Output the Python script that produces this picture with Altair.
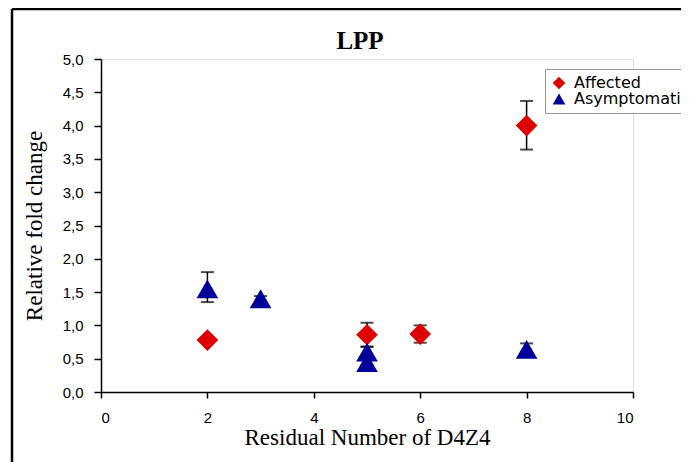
import altair as alt
import pandas as pd

# ---- data ----
groups = ["Affected", "Affected", "Affected", "Affected",
          "Asymptomatic", "Asymptomatic", "Asymptomatic", "Asymptomatic", "Asymptomatic"]
x_vals = [2, 5, 6, 8, 2, 3, 5, 5, 8]
y_vals = [0.78, 0.86, 0.87, 4.00, 1.55, 1.40, 0.60, 0.44, 0.64]
err_low = [None, 0.68, 0.74, 3.64, 1.35, 1.36, 0.52, 0.40, 0.56]
err_high = [None, 1.04, 1.00, 4.37, 1.80, 1.44, 0.68, 0.48, 0.73]

y_ticks = [0.0, 0.5, 1.0, 1.5, 2.0, 2.5, 3.0, 3.5, 4.0, 4.5, 5.0]
x_ticks = [0, 2, 4, 6, 8, 10]
series = ["Affected", "Asymptomatic"]
series_colors = ["#dd0000", "#000099"]
series_shapes = ["diamond", "triangle-up"]
chart_title = "LPP"

df = pd.DataFrame({"group": groups, "x": x_vals, "y": y_vals,
                   "lo": err_low, "hi": err_high})
err = df.dropna().copy()
caps = pd.concat([
    pd.DataFrame({"x": err["x"], "v": err["lo"]}),
    pd.DataFrame({"x": err["x"], "v": err["hi"]}),
])

W, H = 532, 333
PAD = {"left": 93, "top": 51, "right": 48, "bottom": 70}

serif = "Liberation Serif"
sans = "Liberation Sans"

xscale = alt.Scale(domain=[0, 10], nice=False, zero=False)
yscale = alt.Scale(domain=[0, 5], nice=False)

xaxis = alt.Axis(values=x_ticks, format="d", title="Residual Number of D4Z4",
                 grid=False, tickSize=6, labelPadding=12, titlePadding=1,
                 labelOverlap=False,
                 labelFont=sans, labelFontSize=15, labelColor="#000",
                 titleFont=serif, titleFontSize=23, titleFontWeight="normal",
                 titleColor="#000", domainColor="#000", tickColor="#000",
                 domainWidth=1.5, tickWidth=1.5)
yaxis = alt.Axis(values=y_ticks, tickCount=11,
                 labelExpr="replace(format(datum.value, '.1f'), '.', ',')",
                 title="Relative fold change", grid=False, tickSize=7,
                 labelPadding=11, titlePadding=16, labelOverlap=False,
                 labelFont=sans, labelFontSize=15, labelColor="#000",
                 titleFont=serif, titleFontSize=23, titleFontWeight="normal",
                 titleColor="#000", domainColor="#000", tickColor="#000",
                 domainWidth=1.5, tickWidth=1.5)

bars = alt.Chart(err).mark_rule(color="#000", strokeWidth=1.5).encode(
    x=alt.X("x:Q", scale=xscale, axis=xaxis),
    y=alt.Y("lo:Q", scale=yscale, axis=yaxis),
    y2="hi:Q",
)
capmarks = alt.Chart(caps).mark_tick(color="#000", orient="horizontal",
                                     size=13, thickness=2).encode(
    x=alt.X("x:Q", scale=xscale, axis=xaxis),
    y=alt.Y("v:Q", scale=yscale, axis=yaxis),
)
points = alt.Chart(df).mark_point(filled=True, size=470, opacity=1).encode(
    x=alt.X("x:Q", scale=xscale, axis=xaxis),
    y=alt.Y("y:Q", scale=yscale, axis=yaxis),
    color=alt.Color("group:N", scale=alt.Scale(domain=series, range=series_colors),
                    legend=alt.Legend(title=None, orient="none", legendX=444, legendY=10,
                                      fillColor="#fff", strokeColor="#999",
                                      padding=6,
                                      labelFont="DejaVu Sans", labelFontSize=16,
                                      labelColor="#000", symbolSize=160,
                                      rowPadding=0, labelOffset=7)),
    shape=alt.Shape("group:N", scale=alt.Scale(domain=series, range=series_shapes)),
)

frame_left = alt.Chart(alt.Data(values=[{}])).mark_rule(
    color="#000", strokeWidth=2.5).encode(
    x=alt.value(-89), y=alt.value(-50), y2=alt.value(H + PAD["bottom"]))
frame_top = alt.Chart(alt.Data(values=[{}])).mark_rule(
    color="#000", strokeWidth=2.5).encode(
    x=alt.value(-89), x2=alt.value(W + PAD["right"]), y=alt.value(-50))

title_text = alt.Chart(alt.Data(values=[{"t": chart_title}])).mark_text(
    font=serif, fontSize=25, fontWeight="bold", color="#000",
    align="center", baseline="alphabetic").encode(
    x=alt.value(259), y=alt.value(-10), text="t:N")

chart = alt.layer(frame_left, frame_top, title_text, bars, capmarks, points).properties(
    width=W, height=H,
    autosize=alt.AutoSizeParams(type="none"),
    padding=PAD,
).configure_view(stroke="#333", strokeWidth=1.5).configure_legend(
    strokeWidth=2).configure(background="#fff")

chart.save("out.html", embed_options={"renderer": "svg", "actions": False})
